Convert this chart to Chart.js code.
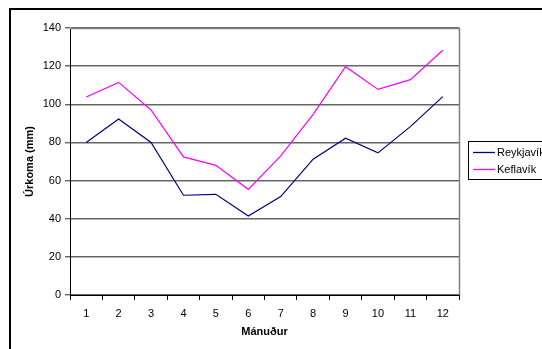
<!DOCTYPE html>
<html>
<head>
<meta charset="utf-8">
<script src="https://cdn.jsdelivr.net/npm/chart.js@4/dist/chart.umd.min.js"></script>
<style>
  html,body{margin:0;padding:0;background:#fff;}
  #wrap{width:542px;height:349px;position:relative;}
</style>
</head>
<body>
<div id="wrap"><canvas id="c" width="542" height="349"></canvas></div>
<script>
// gögn lesin af myndinni
const months = ['1','2','3','4','5','6','7','8','9','10','11','12'];
const reykjavik = [80, 92.3, 80, 52.3, 52.8, 41.4, 51.6, 71.2, 82.2, 74.5, 88.3, 104];
const keflavik  = [103.8, 111.5, 97, 72.4, 68, 55.4, 72.9, 94.7, 119.7, 107.8, 112.9, 128.3];
const seriesNames = ['Reykjavík', 'Keflavík'];
const seriesColors = ['#000080', '#ff00ff'];

const FONT = 'Liberation Sans, Arial, sans-serif';

// ramminn og skýringin teiknuð sér
const framePlugin = {
  id:'frame',
  afterDraw(chart){
    const ctx = chart.ctx, a = chart.chartArea;
    ctx.save();
    // grár rammi um teiknisvæðið (efst og hægri)
    ctx.strokeStyle = '#808080'; ctx.lineWidth = 1.5;
    ctx.beginPath();
    ctx.moveTo(a.left, a.top + 0.5); ctx.lineTo(a.right + 0.5, a.top + 0.5); ctx.lineTo(a.right + 0.5, a.bottom);
    ctx.stroke();
    // ytri rammi
    ctx.strokeStyle = '#000'; ctx.lineWidth = 2;
    ctx.strokeRect(10, 9, 700, 500);
    // skýring
    ctx.lineWidth = 1;
    ctx.strokeRect(468.5, 141.5, 200, 38);
    ctx.font = '11px ' + FONT; ctx.textBaseline = 'middle'; ctx.fillStyle = '#000';
    seriesNames.forEach((n, i) => {
      const y = 152 + i * 17;
      ctx.beginPath();
      ctx.strokeStyle = seriesColors[i]; ctx.lineWidth = 1.3;
      ctx.moveTo(473, y + 0.5); ctx.lineTo(495, y + 0.5);
      ctx.stroke();
      ctx.fillText(n, 497, y + 1);
    });
    ctx.restore();
  }
};

new Chart(document.getElementById('c'), {
  type:'line',
  data:{
    labels:months,
    datasets:[
      {label:seriesNames[0], data:reykjavik, borderColor:seriesColors[0], borderWidth:1.2, pointRadius:0, tension:0, fill:false},
      {label:seriesNames[1], data:keflavik, borderColor:seriesColors[1], borderWidth:1.2, pointRadius:0, tension:0, fill:false}
    ]
  },
  options:{
    responsive:false, animation:false,
    layout:{padding:{top:28, right:83, left:0, bottom:0}},
    plugins:{legend:{display:false}, tooltip:{enabled:false}},
    scales:{
      x:{
        offset:true,
        afterFit(s){ s.height = 54; },
        grid:{offset:true, drawOnChartArea:false, tickLength:5, color:'#000'},
        border:{color:'#000', width:1},
        ticks:{color:'#000', font:{family:FONT, size:11}, padding:7, maxRotation:0},
        title:{display:true, text:'Mánuður', color:'#000', font:{family:FONT, size:11, weight:'bold'}, padding:{bottom:10, top:0}}
      },
      y:{
        min:0, max:140,
        afterFit(s){ s.width = 70; },
        grid:{color:'#666', lineWidth:1.4, tickLength:5, drawTicks:true},
        border:{color:'#000', width:1},
        ticks:{stepSize:20, color:'#000', font:{family:FONT, size:11}, padding:4},
        title:{display:true, text:'Úrkoma (mm)', color:'#000', font:{family:FONT, size:11, weight:'bold'}, padding:{top:23, bottom:0}}
      }
    }
  },
  plugins:[framePlugin]
});
</script>
</body>
</html>
